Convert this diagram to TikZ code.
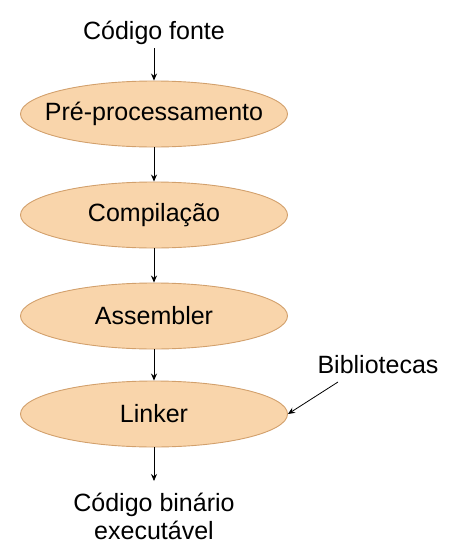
\documentclass[tikz,border=0pt]{standalone}
\usepackage{fontspec}
\setmainfont{Liberation Sans}
\usetikzlibrary{shapes.geometric,arrows.meta}
\definecolor{efill}{HTML}{F9D5AB}
\definecolor{edraw}{HTML}{D2A06C}
\newcommand{\fixw}[1]{\makebox[0pt]{#1}}
\begin{document}
\begin{tikzpicture}[x=1pt,y=-1pt,
  stage/.style={ellipse,draw=edraw,fill=efill,line width=0.9pt,minimum width=267pt,minimum height=66pt,inner sep=0pt,font=\fontsize{25}{29}\selectfont},
  lbl/.style={font=\fontsize{25}{29}\selectfont,inner sep=0pt,align=center},
  conn/.style={-{Stealth[length=7pt,width=6pt]},line width=0.8pt}]
\useasboundingbox (0,0) rectangle (453,554);
\node[lbl] (src) at (154,33) {Código fonte};
\node[stage] (pre) at (154,114) {\fixw{Pré-processamento}};
\node[stage] (comp) at (154,215) {\fixw{Compilação}};
\node[stage] (asm) at (154,316) {\fixw{Assembler}};
\node[stage] (link) at (154,414) {\fixw{Linker}};
\node[lbl] (bib) at (378,365) {Bibliotecas};
\node[lbl] (out) at (154,516) {Código binário\\[-1pt]executável};
\coordinate (s0) at (154,48);
\coordinate (b0) at (338,382);
\coordinate (o1) at (154,481);
\draw[conn] (s0) -- (pre.north);
\draw[conn] (pre.south) -- (comp.north);
\draw[conn] (comp.south) -- (asm.north);
\draw[conn] (asm.south) -- (link.north);
\draw[conn] (link.south) -- (o1);
\draw[conn] (b0) -- (link.east);
\end{tikzpicture}
\end{document}
